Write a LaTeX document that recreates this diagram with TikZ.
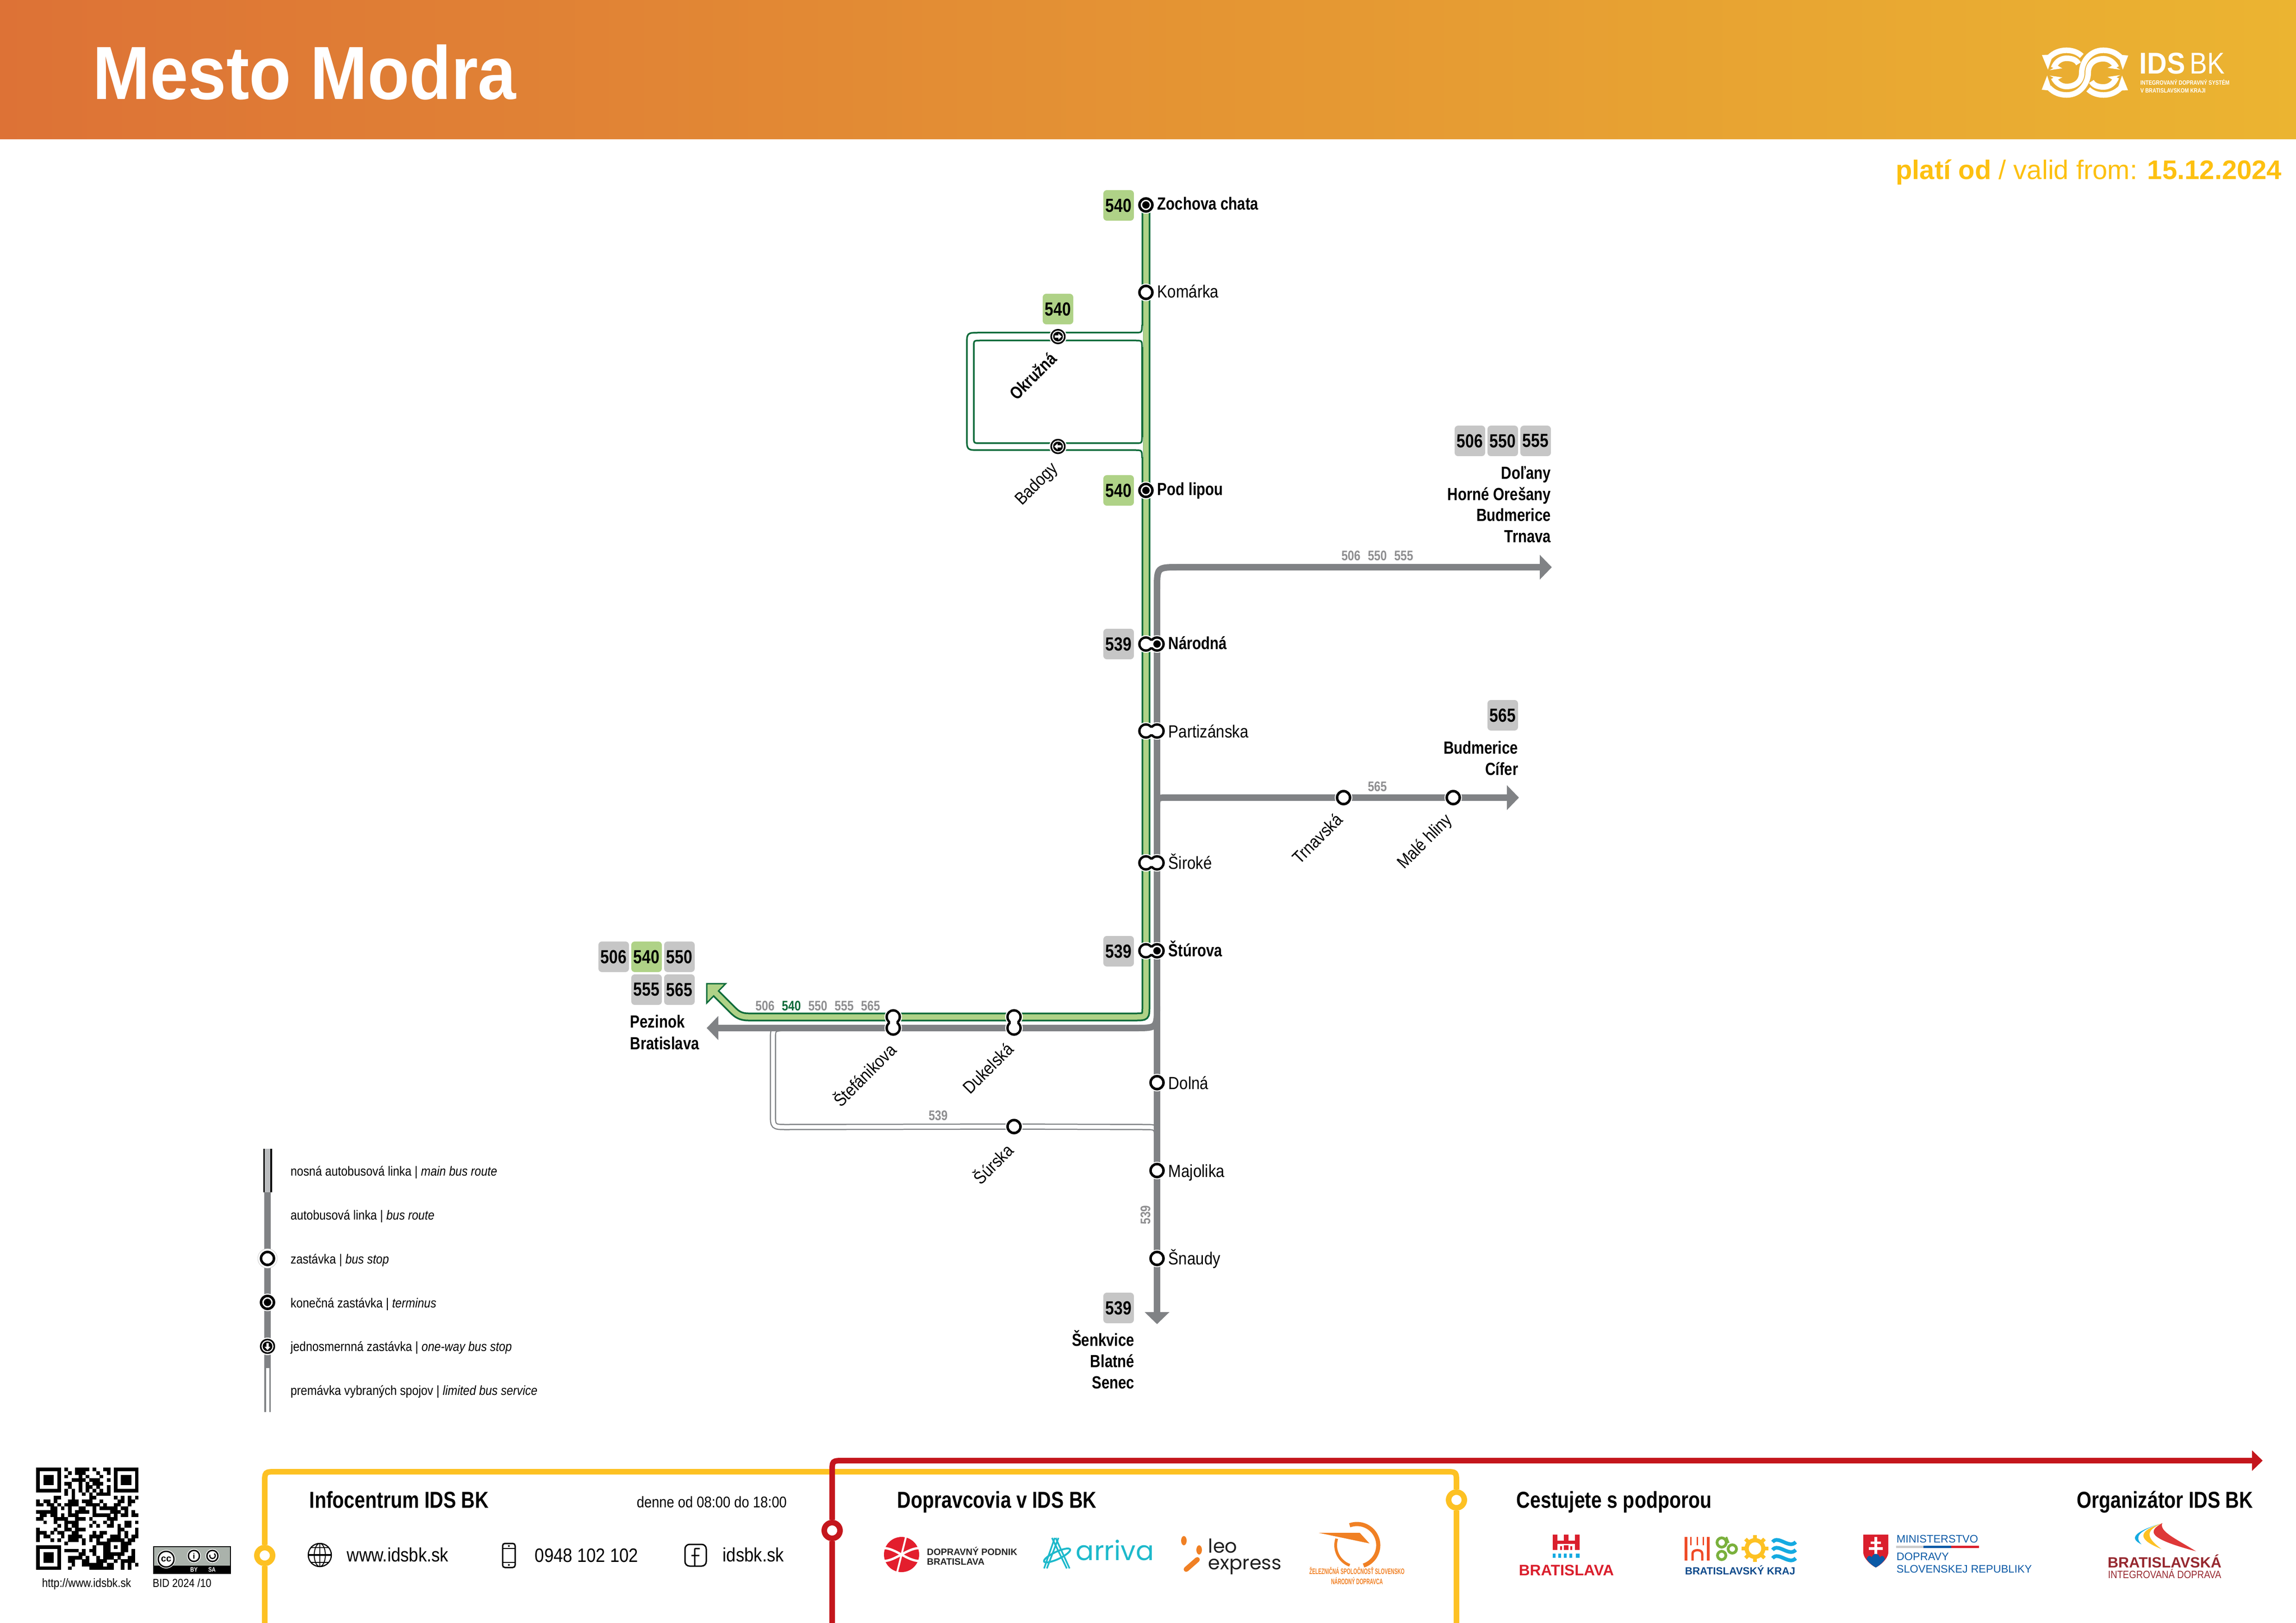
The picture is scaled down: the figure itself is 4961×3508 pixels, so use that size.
\documentclass[tikz,border=0pt]{standalone}
\usepackage{fontspec}
\usetikzlibrary{arrows.meta,backgrounds}
\newfontfamily\rr[FakeStretch=0.87]{Liberation Sans}
\newfontfamily\rb[FakeStretch=0.82]{Liberation Sans}
\newfontfamily\rt[FakeStretch=0.91]{Liberation Sans}
\newfontfamily\rx[FakeStretch=0.6]{Liberation Sans}
\newfontfamily\fu{Liberation Sans}
\newfontfamily\pop{Poppins}
\newcommand\rbf{\rb\bfseries}
\newcommand\px[1]{\fontsize{\dimexpr#1\dimexpr0.24pt\relax\relax}{\dimexpr#1\dimexpr0.29pt\relax\relax}\selectfont}
\definecolor{gln}{HTML}{808285}
\definecolor{lgr}{HTML}{AFD287}
\definecolor{dgr}{HTML}{0F6B3A}
\definecolor{bgy}{HTML}{C6C6C6}
\definecolor{tgy}{HTML}{8E8E90}
\definecolor{yel}{HTML}{FDC123}
\definecolor{red1}{HTML}{C4161C}
\definecolor{dat}{HTML}{FDC010}
\definecolor{hl}{HTML}{DD7236}
\definecolor{hr}{HTML}{EBB431}
\definecolor{teal1}{HTML}{1DB9CB}
\definecolor{ora}{HTML}{F08024}
\definecolor{brd}{HTML}{DA1F2D}
\definecolor{kblue}{HTML}{0D4A8B}
\definecolor{mblue}{HTML}{0B5AA6}
\definecolor{bdr}{HTML}{96282F}
\definecolor{kor}{HTML}{EF4B27}
\definecolor{kgr}{HTML}{7AB03C}
\definecolor{kbl}{HTML}{14AAE1}
\definecolor{dpr}{HTML}{E31E2D}
\definecolor{bidr}{HTML}{DE3838}
\definecolor{ccg}{HTML}{AAB2AB}
\definecolor{lgy}{HTML}{BCBEC0}
\newcounter{tx}
\newcommand\T[4][]{\stepcounter{tx}\node[#1] (tx\arabic{tx}) at (#2,#3) {#4};}
\newcommand\stopO[3]{\fill[white] (#2,#3) circle (19); \node[stopn] (#1) at (#2,#3) {};}
\newcommand\stopT[3]{\stopO{#1}{#2}{#3}\fill (#1) circle (8);}
\newcommand\stopW[4]{\fill[white] (#2,#3) circle (19); \node[stopw] (#1) at (#2,#3) {};
  \fill[white] (#1) circle (13); \fill (#1) circle (10.5);
  \begin{scope}[shift={(#2,#3)},rotate=#4]\fill[white] (8,0) -- (1,-6.5) -- (1,-2.5) -- (-7,-2.5) -- (-7,2.5) -- (1,2.5) -- (1,6.5) -- cycle;\end{scope}}
\newcommand\stopD[5]{\fill[white] (#2,#3) circle (19); \fill[white] (#4,#5) circle (19);
  \node[stopn] (#1-a) at (#2,#3) {}; \node[stopn] (#1-b) at (#4,#5) {};
  \fill[white] (#1-a) circle (11.5); \fill[white] (#1-b) circle (11.5);
  \draw[white,lw=14] (#1-a.center) -- (#1-b.center);}
\newcommand\idshalf{%
 \draw[white,lw=12] (4427,125) .. controls (4438,113) and (4452,108.7) .. (4465,108.7) .. controls (4478,108.7) and (4490,113) .. (4498,121);
 \fill[white] (4412,119) -- (4425,150.7) -- (4436,118) -- cycle;
 \draw[white,lw=12] (4437,147) .. controls (4442,134) and (4452,126) .. (4465,126) .. controls (4478,126) and (4487,130) .. (4491,138);
 \fill[white] (4428.6,151.7) -- (4456,147.7) -- (4445.5,141.7) -- cycle;
 \draw[white,lw=12] (4583,125) .. controls (4572,113) and (4558,108.7) .. (4544.5,108.7) .. controls (4515,108.7) and (4498,135) .. (4498,157) .. controls (4498,178) and (4482,187) .. (4465,187) .. controls (4452,187) and (4442,178) .. (4437,168);
 \fill[white] (4598.5,120) -- (4586.7,150.7) -- (4576,118) -- cycle;
 \fill[white] (4428.6,163.4) -- (4456,167.3) -- (4445.5,172.7) -- cycle;
}
\tikzset{
 lw/.style={line width=#1*0.24pt},
 stopn/.style={circle,draw=black,fill=white,lw=5.5,minimum size=6.72pt,inner sep=0pt},
 stopw/.style={circle,fill=black,minimum size=7.9pt,inner sep=0pt},
 ringn/.style={circle,draw=#1,fill=white,lw=12,minimum size=8.16pt,inner sep=0pt},
 badge/.style={rectangle,rounded corners=1.8pt,fill=bgy,minimum size=15.84pt,inner sep=0pt,font=\rbf\px{41}},
 gbadge/.style={badge,fill=lgr},
 sn/.style={anchor=base west,inner sep=0pt,font=\rr\px{38}},
 sb/.style={anchor=base west,inner sep=0pt,font=\rbf\px{38}},
 se/.style={anchor=base east,inner sep=0pt,font=\rbf\px{38}},
 rn/.style={anchor=base east,inner sep=0pt,font=\rr\px{38},rotate=45},
 rb/.style={anchor=base east,inner sep=0pt,font=\rbf\px{38},rotate=45},
 rl/.style={anchor=base,inner sep=0pt,font=\rbf\px{30},text=tgy},
 leg/.style={anchor=base west,inner sep=0pt,font=\rr\px{28.6}},
 head/.style={anchor=base west,inner sep=0pt,font=\rbf\px{50}},
 foot/.style={anchor=base west,inner sep=0pt,font=\rr\px{42}},
 gl/.style={draw=gln,lw=14},
 tip/.style={-{Triangle[length=6.24pt,width=12.48pt]}},
}
\begin{document}
\begin{tikzpicture}[x=0.24pt,y=-0.24pt]
\useasboundingbox (0,0) rectangle (4961,3508);
% ---------- header
\shade[left color=hl,right color=hr] (0,0) rectangle (4961,301);
\T[anchor=base west,inner sep=0pt,text=white,font=\rt\bfseries\px{163}]{200}{215}{Mesto Modra}
\idshalf
\begin{scope}[rotate around={180:(4505,157)}]\idshalf\end{scope}
\T[anchor=base west,inner sep=0pt,text=white,font=\rt\bfseries\px{65}]{4622}{160}{IDS}
\T[anchor=base west,inner sep=0pt,text=white,font=\rr\px{65}]{4731}{160}{BK}
\T[anchor=base west,inner sep=0pt,text=white,font=\rbf\px{13.4}]{4624}{184}{INTEGROVANÝ DOPRAVNÝ SYSTÉM}
\T[anchor=base west,inner sep=0pt,text=white,font=\rbf\px{13.4}]{4624}{201}{V BRATISLAVSKOM KRAJI}
\T[anchor=base east,inner sep=0pt,text=dat,font=\fu\px{58}]{4931}{388}{{\bfseries platí od} / valid from: {\bfseries 15.12.2024}}
% ---------- stops
\stopT{zochova}{2476}{443}
\stopO{komarka}{2476}{632}
\stopT{podlipou}{2476}{1060}
\stopW{okruzna}{2286}{727.5}{0}
\stopW{badogy}{2286}{965}{180}
\stopD{narodna}{2476}{1392}{2500}{1392}\fill (narodna-b) circle (8);
\stopD{partiz}{2476}{1580}{2500}{1580}
\stopD{siroke}{2476}{1865}{2500}{1865}
\stopD{sturova}{2476}{2055}{2500}{2055}\fill (sturova-b) circle (8);
\stopD{stefan}{1930}{2198}{1930}{2222}
\stopD{dukel}{2191}{2198}{2191}{2222}
\stopO{surska}{2191}{2435}
\stopO{dolna}{2500}{2340}
\stopO{majol}{2500}{2530}
\stopO{snaudy}{2500}{2720}
\stopO{trnavska}{2903}{1724}
\stopO{malehl}{3140}{1724}
% ---------- station labels
\T[sb]{2500}{454}{Zochova chata}
\T[sn]{2500}{644}{Komárka}
\T[sb]{2500}{1071}{Pod lipou}
\T[sb]{2524}{1403}{Národná}
\T[sn]{2524}{1594}{Partizánska}
\T[sn]{2524}{1878}{Široké}
\T[sb]{2524}{2067}{Štúrova}
\T[sn]{2524}{2354}{Dolná}
\T[sn]{2524}{2544}{Majolika}
\T[sn]{2524}{2733}{Šnaudy}
\T[rb]{2286}{778}{Okružná}
\T[rn]{2288}{1014}{Badogy}
\T[rn]{1940}{2272}{Štefánikova}
\T[rn]{2193}{2270}{Dukelská}
\T[rn]{2193}{2489}{Šúrska}
\T[rn]{2904}{1774}{Trnavská}
\T[rn]{3140}{1774}{Malé hliny}
% ---------- badges
\T[gbadge]{2417}{444}{540}
\T[gbadge]{2286}{668}{540}
\T[gbadge]{2417}{1060}{540}
\T[badge]{2417}{1392}{539}
\T[badge]{2417}{2056}{539}
\T[badge]{2417}{2827}{539}
\T[badge]{1326}{2068}{506}
\T[gbadge]{1397}{2068}{540}
\T[badge]{1468}{2068}{550}
\T[badge]{1397}{2139}{555}
\T[badge]{1468}{2139}{565}
\T[badge]{3176}{953}{506}
\T[badge]{3247}{953}{550}
\T[badge]{3318}{953}{555}
\T[badge]{3247}{1546}{565}
% ---------- destinations
\T[se]{3352}{1036}{Doľany}
\T[se]{3352}{1082}{Horné Orešany}
\T[se]{3352}{1127}{Budmerice}
\T[se]{3352}{1173}{Trnava}
\T[se]{3281}{1629}{Budmerice}
\T[se]{3281}{1675}{Cífer}
\T[se]{2452}{2909}{Šenkvice}
\T[se]{2452}{2955}{Blatné}
\T[se]{2452}{3001}{Senec}
\T[sb]{1361}{2221}{Pezinok}
\T[sb]{1361}{2268}{Bratislava}
% ---------- route numbers
\T[rl]{2919}{1212}{506}
\T[rl]{2976}{1212}{550}
\T[rl]{3033}{1212}{555}
\T[rl]{2976}{1710}{565}
\T[rl]{1653}{2184}{506}
\T[rl,text=dgr]{1710}{2184}{540}
\T[rl]{1767}{2184}{550}
\T[rl]{1824}{2184}{555}
\T[rl]{1881}{2184}{565}
\T[rl]{2027}{2421}{539}
\T[rl,rotate=90,anchor=center]{2475}{2626}{539}
% ---------- route lines
\coordinate (trunkTop) at (2500,1273);
\coordinate (trunkEnd) at (2500,2862);
\coordinate (eastTip) at (3353,1226);
\coordinate (cifTip) at (3282,1724);
\coordinate (westTip) at (1527,2222);
\begin{scope}[on background layer]
 % limited service 539
 \foreach \c/\w in {gln/13.5,white/8.5}{
  \draw[draw=\c,lw=\w] (2500,2464) .. controls (2500,2436) .. (2472,2436) -- (surska.center) -- (1700,2436) .. controls (1670,2436) .. (1670,2406) -- (1670,2250) .. controls (1670,2224) .. (1690,2222);}
 % grey trunk and branches
 \draw[gl,tip] (trunkTop) .. controls (2500,1226) .. (2547,1226) -- (eastTip);
 \draw[gl,tip] (2500,1746) .. controls (2500,1724) .. (2522,1724) -- (cifTip);
 \draw[gl] (2500,2175) .. controls (2500,2222) .. (2453,2222) -- (dukel-b.center) -- (stefan-b.center) -- (1540,2222);
 \fill[gln] (westTip) -- (1552,2196) -- (1552,2248) -- cycle;
 \draw[gl,tip] (trunkTop) -- (narodna-b.center) -- (dolna.center) -- (majol.center) -- (snaudy.center) -- (trunkEnd);
 % green main
 \draw[dgr,lw=19] (zochova.center) -- (2476,2175) .. controls (2476,2198) .. (2453,2198) -- (1617,2198) .. controls (1600,2198) and (1592,2192) .. (1583,2183) -- (1546,2146);
 \fill[lgr,draw=dgr,lw=3] (1527,2126) -- (1568,2126) -- (1527,2168) -- cycle;
 \draw[lgr,lw=11.5] (zochova.center) -- (2476,2175) .. controls (2476,2198) .. (2453,2198) -- (1617,2198) .. controls (1600,2198) and (1592,2192) .. (1583,2183) -- (1540,2140);
 % loop
 \fill[white] (2464,704) rectangle (2469.8,750);
 \fill[white] (2464,945) rectangle (2469.8,988);
 \draw[dgr,lw=3.5] (2467.5,702) .. controls (2467.5,719) .. (2452,719) -- (2117,719) .. controls (2089,719) .. (2089,747) -- (2089,945) .. controls (2089,973) .. (2117,973) -- (2452,973) .. controls (2467.5,973) .. (2467.5,990);
 \draw[dgr,lw=3.5] (2467.5,750) .. controls (2467.5,736) .. (2452,736) -- (2118,736) .. controls (2104,736) .. (2104,750) -- (2104,944) .. controls (2104,958) .. (2118,958) -- (2452,958) .. controls (2467.5,958) .. (2467.5,944) -- cycle;
\end{scope}
% ---------- legend
\coordinate (lgA) at (578,2482.5);
\coordinate (lgB) at (578,2577);
\coordinate (lgC) at (578,2957);
\coordinate (lgD) at (578,3052);
\draw[black,lw=19] (lgA) -- (lgB);
\draw[lgy,lw=12] (lgA) -- (lgB);
\draw[gl] (lgB) -- (lgC);
\draw[gl] (lgC) -- (lgD);
\draw[white,lw=7] (lgC) -- (lgD);
\fill[white,draw=black!18,lw=1] (578,2720) circle (21);
\node[stopn] (lgStop) at (578,2720) {};
\stopT{lgTerm}{578}{2815}
\stopW{lgOne}{578}{2910}{-90}
\T[leg]{627}{2541}{nosná autobusová linka | {\itshape main bus route}}
\T[leg]{627}{2636}{autobusová linka | {\itshape bus route}}
\T[leg]{627}{2731}{zastávka | {\itshape bus stop}}
\T[leg]{627}{2826}{konečná zastávka | {\itshape terminus}}
\T[leg]{627}{2920}{jednosmernná zastávka | {\itshape one-way bus stop}}
\T[leg]{627}{3015}{premávka vybraných spojov | {\itshape limited bus service}}
% ---------- QR
\foreach \fx/\fy in {78.3/3172.3,245.9/3172.3,78.3/3339.9}{
 \fill (\fx,\fy) rectangle +(53.3,53.3);
 \fill[white] ({\fx+7.62},{\fy+7.62}) rectangle +(38.1,38.1);
 \fill ({\fx+15.24},{\fy+15.24}) rectangle +(22.86,22.86);}
\foreach \r/\cols in {0/{8,11,12,13,14,16,19,20},1/{9,11,12,13,17,20},2/{8,12,14,18},3/{10,11,12,13,15,16,17,20},4/{8,9,12,14,16,17,18},5/{9,12,14,15,17,20},6/{8,10,12,14,16,18,20},7/{8,10,13,15,17,18,19,20},
 8/{5,6,10,15,16,22,24,26,28},9/{0,2,3,5,9,10,11,13,14,15,18,23,24,26,27},10/{0,1,3,4,6,8,9,10,11,14,15,16,17,19,22,23,26},11/{4,5,7,9,12,13,16,18,19,20,21,22,24,25},12/{0,1,2,3,4,5,9,11,12,13,14,16,21,22,23,25,27},13/{1,2,4,5,7,9,10,11,16,17,18,19,20,22,24,25,27,28},14/{0,1,5,6,7,8,11,12,13,15,20,21,22},15/{2,5,8,9,10,11,16,19,21,25,26,28},16/{6,8,10,11,15,17,20,21,23,25,26},17/{0,5,8,9,11,12,13,23,24,28},18/{0,1,2,4,6,7,10,11,16,18,19,23,25,28},19/{0,2,3,7,9,10,11,12,15,16,17,18,21,22,23,25,27,28},20/{0,4,6,9,10,11,13,15,17,20,21,22,23,24,26,27},21/{8,13,17,18,19,20,24,25,26},22/{16,19,20,22,24,25},23/{8,9,10,11,13,15,16,19,20,24,25,27},24/{12,13,16,19,20,21,22,23,24,27},25/{9,10,11,12,14,17,19,20,21,23,26,27},26/{9,10,13,14,17,18,19,22,24,25,26,27},27/{10,13,14,15,16,17,18,20,21,24,26,28},28/{9,15,16,17,18,19,20,21,24,26}}{
 \foreach \k in \cols {\fill ({78.3+7.62*\k},{3172.3+7.62*\r}) rectangle +(7.8,7.8);}}
\T[anchor=base west,inner sep=0pt,font=\rr\px{26}]{90}{3430}{http://www.idsbk.sk}
\T[anchor=base west,inner sep=0pt,font=\rr\px{25}]{329}{3430}{BID 2024 /10}
% CC badge
\fill[black] (331,3342) rectangle (499,3402);
\fill[ccg] (333,3344) rectangle (497,3384);
\fill[white] (359,3370) circle (20); \draw[black,lw=3] (359,3370) circle (17);
\T[inner sep=0pt,font=\fu\bfseries\px{20}]{359}{3370}{cc}
\fill[white] (419,3363) circle (15); \draw[black,lw=3] (419,3363) circle (12);
\T[inner sep=0pt,font=\fu\bfseries\px{17}]{419}{3363}{i}
\fill[white] (459,3363) circle (15); \draw[black,lw=3] (459,3363) circle (12);
\draw[black,lw=2.5] (463,3358) arc[start angle=-50,end angle=200,radius=6];
\T[inner sep=0pt,text=white,font=\rbf\px{14}]{419}{3393}{BY}
\T[inner sep=0pt,text=white,font=\rbf\px{14}]{458}{3393}{SA}
% ---------- footer lines
\node[ringn=yel] (yelA) at (572,3362) {};
\node[ringn=yel] (yelB) at (3147,3242) {};
\node[ringn=red1] (redA) at (1798,3308) {};
\coordinate (yelS) at (572,3508);
\coordinate (yelE) at (3147,3508);
\coordinate (redS) at (1798,3508);
\coordinate (redE) at (4889,3157);
\begin{scope}[on background layer]
 \draw[yel,lw=12] (yelS) -- (yelA) -- (572,3206) .. controls (572,3181) .. (597,3181) -- (3124,3181) .. controls (3147,3181) .. (3147,3206) -- (yelB) -- (yelE);
 \draw[red1,lw=12,-{Triangle[length=5.52pt,width=10.3pt]}] (redS) -- (redA) -- (1798,3182) .. controls (1798,3157) .. (1823,3157) -- (redE);
\end{scope}
\T[head]{668}{3259}{Infocentrum IDS BK}
\T[anchor=base west,inner sep=0pt,font=\rr\px{33.5}]{1375}{3258}{denne od 08:00 do 18:00}
\T[head]{1938}{3259}{Dopravcovia v IDS BK}
\T[head]{3276}{3259}{Cestujete s podporou}
\T[anchor=base east,inner sep=0pt,font=\rbf\px{50}]{4869}{3259}{Organizátor IDS BK}
\T[foot]{749}{3375}{www.idsbk.sk}
\T[foot]{1155}{3376}{0948 102 102}
\T[foot]{1561}{3375}{idsbk.sk}
% globe
\draw[lw=2.5] (691,3361) circle (25);
\draw[lw=2] (691,3361) ellipse (12 and 25);
\draw[lw=2] (691,3336) -- (691,3386);
\draw[lw=4] (666,3361) -- (716,3361);
\draw[lw=2] (672,3345) -- (710,3345) (672,3377) -- (710,3377);
% phone
\draw[lw=3,rounded corners=1.2pt] (1086,3336) rectangle (1113,3388);
\draw[lw=2] (1086,3347) -- (1113,3347) (1086,3377) -- (1113,3377);
\fill (1099.5,3341.5) circle (2) (1099.5,3382.5) circle (2);
% facebook
\draw[lw=3,rounded corners=2.4pt] (1480,3338) rectangle (1526,3385);
\draw[lw=3] (1512,3347) -- (1506,3347) .. controls (1501,3347) .. (1501,3352) -- (1501,3385) (1494,3362) -- (1511,3362);
% ---------- operator logos
\fill[dpr] (1948,3360) circle (38);
\draw[white,lw=5] (1909,3346) .. controls (1935,3346) and (1960,3374) .. (1987,3374);
\draw[white,lw=5] (1909,3374) .. controls (1935,3374) and (1960,3346) .. (1987,3346);
\draw[white,lw=4] (1958,3320) -- (1938,3400);
\T[anchor=base west,inner sep=0pt,text=black!85,font=\fu\bfseries\px{20}]{2002}{3361}{DOPRAVNÝ PODNIK}
\T[anchor=base west,inner sep=0pt,text=black!85,font=\fu\bfseries\px{20}]{2002}{3382}{BRATISLAVA}
% arriva
\draw[teal1,lw=3.5] (2279,3324) -- (2256,3390) (2281,3324) -- (2311,3390) (2287,3324) -- (2262,3390) (2273,3324) -- (2305,3390);
\draw[teal1,lw=4,rotate around={25:(2284,3362)}] (2284,3362) ellipse (31 and 8);
\T[anchor=base west,inner sep=0pt,text=teal1,font=\pop\px{58}]{2324}{3372}{arriva}
% leo express
\fill[ora] (2558,3330) ellipse (6 and 10);
\fill[ora] (2591,3350) ellipse (6 and 10);
\draw[ora,lw=11,line cap=round] (2587,3371) -- (2563,3392);
\T[anchor=base west,inner sep=0pt,text=black!88,font=\pop\px{41.5}]{2610}{3356}{leo}
\T[anchor=base west,inner sep=0pt,text=black!88,font=\pop\px{41.5}]{2610}{3392}{express}
% ZSSK
\draw[ora,lw=9] ({2932+46*cos(-110)},{3340+46*sin(-110)}) arc[start angle=-110,end angle=72,radius=46];
\draw[ora,lw=6] ({2932+46*cos(198)},{3340+46*sin(198)}) arc[start angle=198,end angle=110,radius=46];
\fill[ora] (2849,3313) -- (2938,3313) -- (2959,3336) -- cycle;
\T[anchor=base,inner sep=0pt,text=ora,font=\rx\bfseries\px{17}]{2932}{3402}{ŽELEZNIČNÁ SPOLOČNOSŤ SLOVENSKO}
\T[anchor=base,inner sep=0pt,text=ora,font=\rx\bfseries\px{17}]{2932}{3424}{NÁRODNÝ DOPRAVCA}
% Bratislava
\fill[brd] (3355,3317) rectangle (3365,3350) (3403,3317) rectangle (3413,3350) (3379,3317) rectangle (3389,3330) (3355,3330) rectangle (3413,3337) (3379,3340) rectangle (3389,3350) (3371,3342) rectangle (3375,3350) (3393,3342) rectangle (3397,3350);
\fill[kbl] (3355,3358) rectangle (3361,3367) (3367,3358) rectangle (3373,3367) (3379,3358) rectangle (3385,3367) (3391,3358) rectangle (3397,3367) (3405,3358) rectangle (3413,3367);
\T[anchor=base west,inner sep=0pt,text=brd,font=\fu\bfseries\px{33}]{3281}{3405}{BRATISLAVA}
% Kraj
\draw[kor,lw=6] (3643,3322) -- (3643,3373) (3691,3322) -- (3691,3373);
\draw[kor,lw=3] (3653,3322) -- (3653,3340) (3667,3322) -- (3667,3340) (3680,3322) -- (3680,3340);
\draw[kor,lw=5] (3657,3373) -- (3657,3358) .. controls (3657,3348) and (3678,3348) .. (3678,3358) -- (3678,3373);
\draw[kgr,lw=6] (3720,3334) circle (10) (3743,3348) circle (9) (3720,3362) circle (9);
\draw[kgr,lw=4] (3730,3322) -- (3735,3335);
\draw[yel,lw=9] (3792,3347) circle (18);
\foreach \a in {0,45,...,315}{\draw[yel,lw=8] ({3792+20*cos(\a)},{3347+20*sin(\a)}) -- ({3792+29*cos(\a)},{3347+29*sin(\a)});}
\foreach \y in {3333,3350,3368}{\draw[kbl,lw=8] (3830,\y) .. controls (3842,{\y-16}) and (3866,{\y+16}) .. (3880,\y);}
\T[anchor=base west,inner sep=0pt,text=kblue,font=\fu\bfseries\px{22.4}]{3640}{3403}{BRATISLAVSKÝ KRAJ}
% Ministerstvo
\fill[brd] (4026,3317) -- (4080,3317) -- (4080,3355) .. controls (4080,3370) and (4060,3385) .. (4053,3388) .. controls (4046,3385) and (4026,3370) .. (4026,3355) -- cycle;
\fill[white] (4050,3322) rectangle (4056,3360) (4042,3332) rectangle (4064,3337) (4038,3344) rectangle (4068,3350);
\fill[mblue] (4033,3370) .. controls (4037,3360) and (4041,3362) .. (4044,3366) .. controls (4048,3356) and (4058,3356) .. (4062,3366) .. controls (4065,3362) and (4069,3360) .. (4073,3370) .. controls (4066,3380) and (4058,3385) .. (4053,3388) .. controls (4048,3385) and (4040,3380) .. (4033,3370) -- cycle;
\T[anchor=base west,inner sep=0pt,text=mblue,font=\fu\px{23.5}]{4097}{3334}{MINISTERSTVO}
\T[anchor=base west,inner sep=0pt,text=mblue,font=\fu\px{23.5}]{4097}{3372}{DOPRAVY}
\T[anchor=base west,inner sep=0pt,text=mblue,font=\fu\px{23.5}]{4097}{3399}{SLOVENSKEJ REPUBLIKY}
\fill[black!20] (4097,3341) rectangle (4156,3346);
\fill[mblue] (4156,3341) rectangle (4216,3346);
\fill[brd] (4216,3341) rectangle (4276,3346);
% BID
\fill[bidr] (4672,3292) .. controls (4640,3310) and (4640,3325) .. (4745,3353) .. controls (4700,3325) and (4665,3310) .. (4672,3292) -- cycle;
\fill[yel] (4670,3293) .. controls (4612,3312) and (4625,3330) .. (4670,3348) .. controls (4640,3325) and (4632,3310) .. (4670,3293) -- cycle;
\fill[kbl] (4665,3294) .. controls (4600,3315) and (4607,3328) .. (4627,3338) .. controls (4612,3322) and (4620,3310) .. (4665,3294) -- cycle;
\T[anchor=base,inner sep=0pt,text=bdr,font=\fu\bfseries\px{32}]{4677}{3388}{BRATISLAVSKÁ}
\T[anchor=base,inner sep=0pt,text=bdr,font=\rr\px{23}]{4677}{3411}{INTEGROVANÁ DOPRAVA}
\end{tikzpicture}
\end{document}
